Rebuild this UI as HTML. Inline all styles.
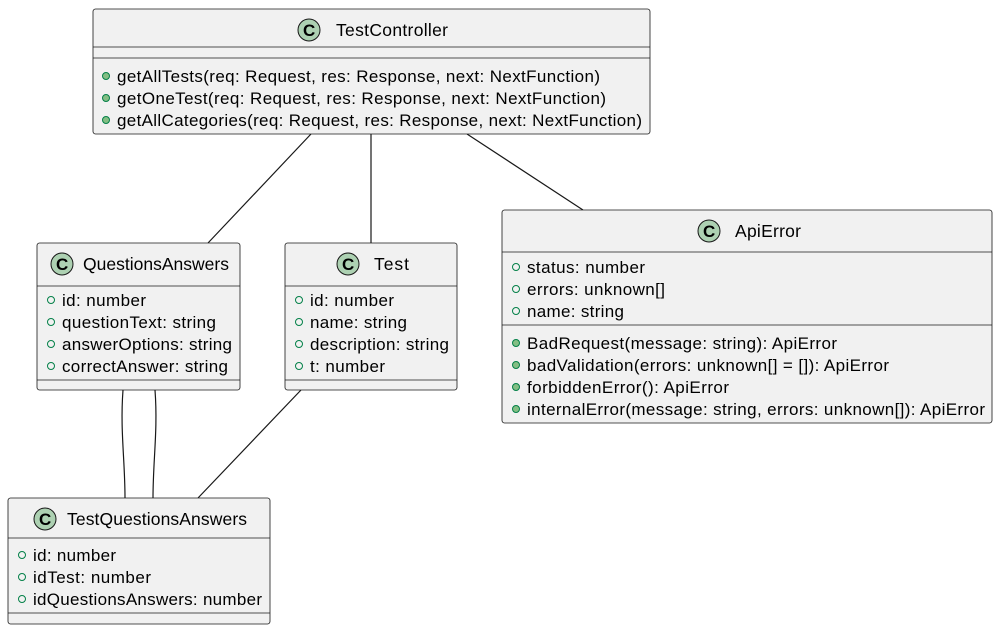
<!DOCTYPE html>
<html><head><meta charset="utf-8"><style>
html,body{margin:0;padding:0;background:#fff;}
svg{display:block;}
text{font-family:"Liberation Sans",Arial,sans-serif;font-size:17px;fill:#000;}
.t{font-size:17.5px;}
</style></head><body>
<svg width="998" height="630" viewBox="0 0 998 630" xmlns="http://www.w3.org/2000/svg">
<defs>
<g id="ic"><circle r="11" fill="#ADD1B2" stroke="#181818" stroke-width="1"/><text x="-6" y="6" style="font-size:17px;font-weight:bold">C</text></g>
</defs>
<g stroke="#181818" stroke-width="1.2" fill="none">
<line x1="311" y1="134" x2="208" y2="243"/>
<line x1="371" y1="134" x2="371" y2="243"/>
<line x1="467" y1="134" x2="583" y2="210"/>
<path d="M123,390 C120,430 125,460 125,498"/>
<path d="M155,390 C158,430 153,460 153,498"/>
<line x1="301" y1="390" x2="198" y2="498"/>
</g>
<g fill="#F1F1F1" stroke="#181818" stroke-width="0.8">
<rect x="93" y="9" width="557" height="125" rx="2.5"/>
<rect x="37" y="243" width="203" height="147" rx="2.5"/>
<rect x="285" y="243" width="172" height="147" rx="2.5"/>
<rect x="502" y="210" width="490" height="213" rx="2.5"/>
<rect x="8" y="498" width="262" height="126" rx="2.5"/>
</g>
<g stroke="#181818" stroke-width="0.8">
<line x1="93" y1="47" x2="650" y2="47"/><line x1="93" y1="58" x2="650" y2="58"/>
<line x1="37" y1="286" x2="240" y2="286"/><line x1="37" y1="380" x2="240" y2="380"/>
<line x1="285" y1="286" x2="457" y2="286"/><line x1="285" y1="380" x2="457" y2="380"/>
<line x1="502" y1="252" x2="992" y2="252"/><line x1="502" y1="325" x2="992" y2="325"/>
<line x1="8" y1="538" x2="270" y2="538"/><line x1="8" y1="613" x2="270" y2="613"/>
</g>
<use href="#ic" x="309" y="30"/><text class="t" x="336" y="36" textLength="112">TestController</text>
<use href="#ic" x="62" y="264"/><text class="t" x="83" y="270" textLength="146">QuestionsAnswers</text>
<use href="#ic" x="348" y="264"/><text class="t" x="374" y="270" textLength="35">Test</text>
<use href="#ic" x="709" y="231"/><text class="t" x="735" y="237" textLength="66">ApiError</text>
<use href="#ic" x="45" y="519"/><text class="t" x="67" y="525" textLength="180">TestQuestionsAnswers</text>
<g fill="#84BE84" stroke="#038048" stroke-width="1">
<circle cx="106" cy="76" r="3.5"/><circle cx="106" cy="98" r="3.5"/><circle cx="106" cy="120" r="3.5"/>
<circle cx="516" cy="343" r="3.5"/><circle cx="516" cy="365" r="3.5"/><circle cx="516" cy="387" r="3.5"/><circle cx="516" cy="409" r="3.5"/>
</g>
<g fill="none" stroke="#038048" stroke-width="1">
<circle cx="51" cy="300" r="3.5"/><circle cx="51" cy="322" r="3.5"/><circle cx="51" cy="344" r="3.5"/><circle cx="51" cy="366" r="3.5"/>
<circle cx="299" cy="300" r="3.5"/><circle cx="299" cy="322" r="3.5"/><circle cx="299" cy="344" r="3.5"/><circle cx="299" cy="366" r="3.5"/>
<circle cx="516" cy="267" r="3.5"/><circle cx="516" cy="289" r="3.5"/><circle cx="516" cy="311" r="3.5"/>
<circle cx="22" cy="555" r="3.5"/><circle cx="22" cy="577" r="3.5"/><circle cx="22" cy="599" r="3.5"/>
</g>
<text x="117" y="82" textLength="483">getAllTests(req: Request, res: Response, next: NextFunction)</text>
<text x="117" y="104" textLength="489">getOneTest(req: Request, res: Response, next: NextFunction)</text>
<text x="117" y="126" textLength="525">getAllCategories(req: Request, res: Response, next: NextFunction)</text>
<text x="62" y="306" textLength="84">id: number</text>
<text x="62" y="328" textLength="154">questionText: string</text>
<text x="62" y="350" textLength="170">answerOptions: string</text>
<text x="62" y="372" textLength="166">correctAnswer: string</text>
<text x="310" y="306" textLength="84">id: number</text>
<text x="310" y="328" textLength="97">name: string</text>
<text x="310" y="350" textLength="139">description: string</text>
<text x="310" y="372" textLength="75">t: number</text>
<text x="527" y="273" textLength="118">status: number</text>
<text x="527" y="295" textLength="138">errors: unknown[]</text>
<text x="527" y="317" textLength="97">name: string</text>
<text x="527" y="349" textLength="310">BadRequest(message: string): ApiError</text>
<text x="527" y="371" textLength="362">badValidation(errors: unknown[] = []): ApiError</text>
<text x="527" y="393" textLength="202">forbiddenError(): ApiError</text>
<text x="527" y="415" textLength="458">internalError(message: string, errors: unknown[]): ApiError</text>
<text x="33" y="561" textLength="83">id: number</text>
<text x="33" y="583" textLength="118">idTest: number</text>
<text x="33" y="605" textLength="229">idQuestionsAnswers: number</text>
</svg>
</body></html>
